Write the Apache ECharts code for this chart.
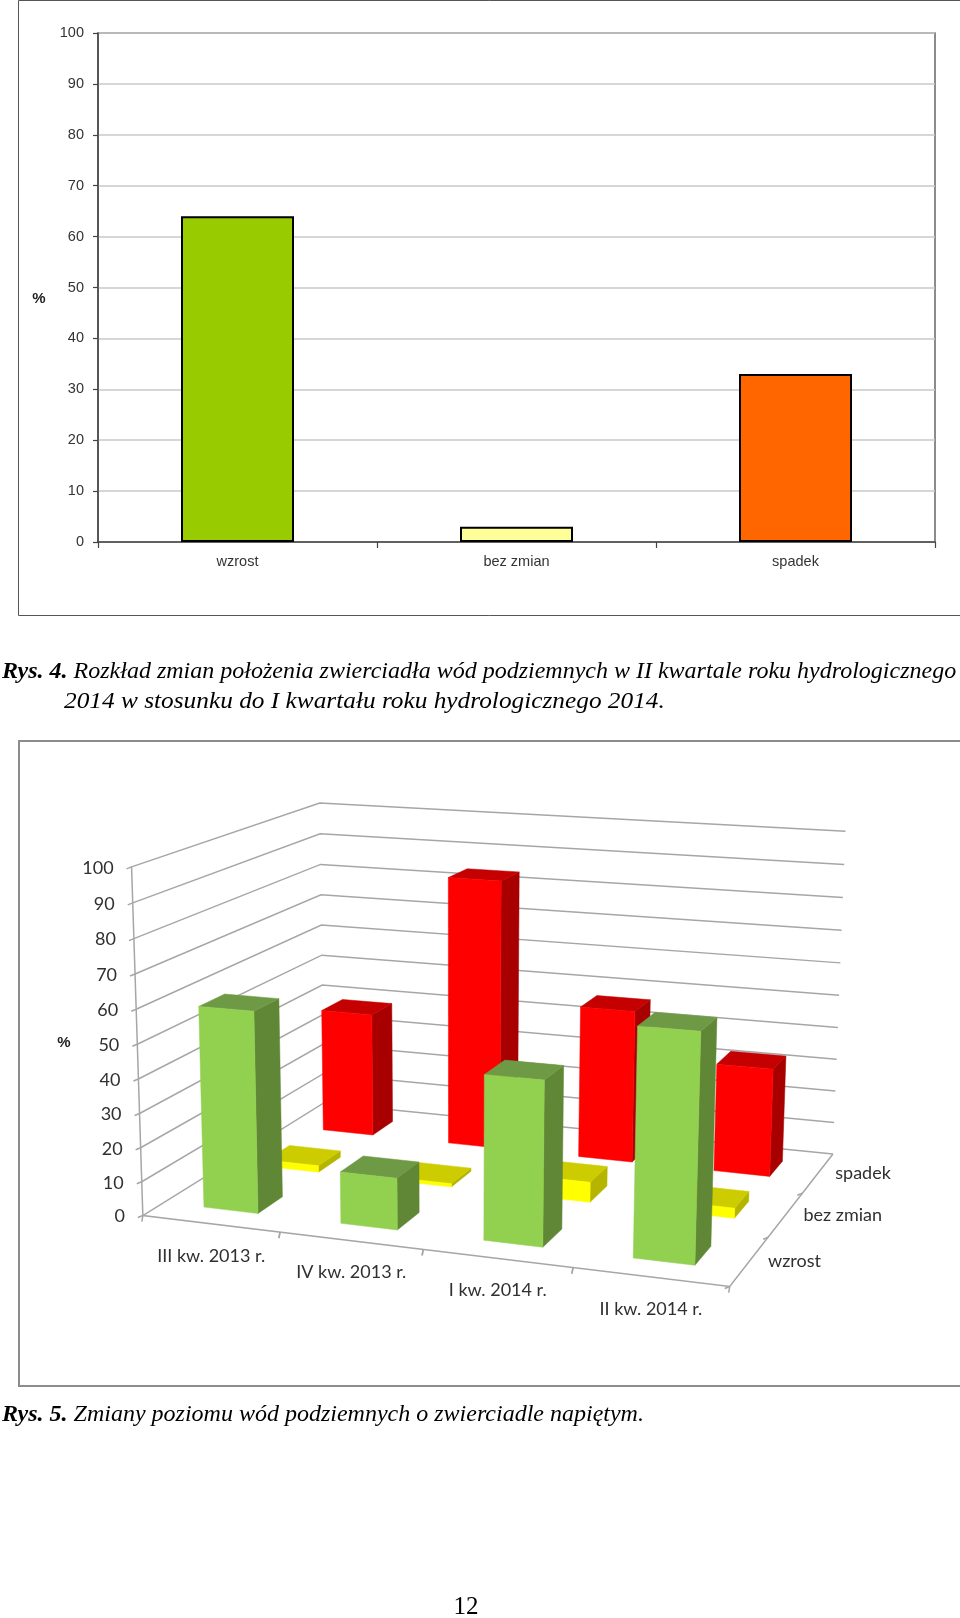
<!DOCTYPE html>
<html><head><meta charset="utf-8">
<style>html,body{margin:0;padding:0;background:#fff}#c{width:960px;height:1618px}</style>
<script src="https://cdn.jsdelivr.net/npm/echarts@6/dist/echarts.min.js"></script>
</head><body><div id="c"></div>
<script>
// ---- data ----
const changeCategories = ['wzrost', 'bez zmian', 'spadek'];
const changeValues = [64, 3, 33];
const changeColors = ['#99CC00', '#FFFF99', '#FF6600'];

const quarters = ['III kw. 2013 r.', 'IV kw. 2013 r.', 'I kw. 2014 r.', 'II kw. 2014 r.'];
const depthLabels = ['wzrost', 'bez zmian', 'spadek'];
const wzrost = [59, 15, 47, 64];
const bezZmian = [2, 1, 6, 3];
const spadek = [39, 84, 47, 33];
const yTicks = [0, 10, 20, 30, 40, 50, 60, 70, 80, 90, 100];

const captions = [
  { pre: 'Rys. 4.', text: ' Rozkład zmian położenia zwierciadła wód podziemnych w II kwartale roku hydrologicznego' },
  { text: '2014 w stosunku do I kwartału roku hydrologicznego 2014.' },
  { pre: 'Rys. 5.', text: ' Zmiany poziomu wód podziemnych o zwierciadle napiętym.' }
];

// ---- perspective camera of the 3D panel: (u, v, w) in 0..1 -> page pixels ----
const calib = [
  [0, 0, 0, 145, 1215], [1, 0, 0, 729, 1288], [1, 1, 0, 834, 1152], [0, 1, 0, 321.5, 1104],
  [0, 0, 1, 130, 866], [0, 1, 1, 321.5, 803], [1, 1, 1, 845, 832]
];
function solveCamera(pts) {
  const A = [], B = [];
  pts.forEach(([u, v, w, X, Y]) => {
    const x = X / 1000, y = Y / 1000;
    A.push([u, v, w, 1, 0, 0, 0, 0, -x * u, -x * v, -x * w]); B.push(x);
    A.push([0, 0, 0, 0, u, v, w, 1, -y * u, -y * v, -y * w]); B.push(y);
  });
  const n = 11, M = [];
  for (let r = 0; r < n; r++) {
    M.push([]);
    for (let c = 0; c < n; c++) {
      let s = r === c ? 1e-10 : 0;
      A.forEach(row => { s += row[r] * row[c]; });
      M[r].push(s);
    }
    let s = 0;
    A.forEach((row, i) => { s += row[r] * B[i]; });
    M[r].push(s);
  }
  for (let i = 0; i < n; i++) {
    let p = i;
    for (let r = i + 1; r < n; r++) if (Math.abs(M[r][i]) > Math.abs(M[p][i])) p = r;
    [M[i], M[p]] = [M[p], M[i]];
    for (let r = 0; r < n; r++) {
      if (r === i) continue;
      const f = M[r][i] / M[i][i];
      for (let c = i; c <= n; c++) M[r][c] -= f * M[i][c];
    }
  }
  return M.map((row, i) => row[n] / row[i]);
}
const K = solveCamera(calib);
function project(u, v, w) {
  const d = K[8] * u + K[9] * v + K[10] * w + 1;
  return [1000 * (K[0] * u + K[1] * v + K[2] * w + K[3]) / d,
          1000 * (K[4] * u + K[5] * v + K[6] * w + K[7]) / d];
}
// library scales -> normalised position
function toUW(api, params, cat, val) {
  const p = api.coord([cat, val]), r = params.coordSys;
  return [(p[0] - r.x) / r.width, 1 - (p[1] - r.y) / r.height];
}

const BAR_W = 0.40 / 4, BAR_D = 0.39 / 3;
function barRender(row, faces) {
  return function (params, api) {
    const [u, w] = toUW(api, params, api.value(0), api.value(1));
    const v = (row + 0.5) / 3;
    const u0 = u - BAR_W / 2, u1 = u + BAR_W / 2, v0 = v - BAR_D / 2, v1 = v + BAR_D / 2;
    const poly = (pts, fill) => ({
      type: 'polygon',
      shape: { points: pts.map(q => project(q[0], q[1], q[2])) },
      style: { fill: fill, stroke: fill, lineWidth: 0.5 }
    });
    return { type: 'group', children: [
      poly([[u1, v0, 0], [u1, v1, 0], [u1, v1, w], [u1, v0, w]], faces.side),
      poly([[u0, v0, w], [u1, v0, w], [u1, v1, w], [u0, v1, w]], faces.top),
      poly([[u0, v0, 0], [u1, v0, 0], [u1, v0, w], [u0, v0, w]], faces.front)
    ] };
  };
}
const LINE = '#A6A6A6';
const line = (pts, lw) => ({ type: 'polyline', shape: { points: pts }, style: { stroke: LINE, lineWidth: lw || 1.5, fill: null } });
const label = (t, x, y, align) => ({ type: 'text', style: { text: t, x: x, y: y, align: align || 'center', verticalAlign: 'middle',
  fontFamily: 'Lato', fontSize: 18, fill: '#303030' } });

function gridRender(params, api) {
  const [, w] = toUW(api, params, 0, api.value(0));
  const f = project(0, 0, w), b = project(0, 1, w), r = project(1, 1, w);
  return { type: 'group', children: [
    line([[f[0] - 5, f[1] + 2], f, b, r]),
    label(String(api.value(0)), f[0] - 18, f[1] + 1, 'right')
  ] };
}
function axisRender() {
  const a = project(0, 0, 0), t = project(0, 0, 1), fr = project(1, 0, 0), br = project(1, 1, 0);
  const kids = [line([t, a, fr, br])];
  [1 / 3, 2 / 3, 1].forEach(v => {
    const p = project(1, 1 - v, 0);
    kids.push(line([p, [p[0] - 5, p[1] + 2]]));
  });
  return { type: 'group', children: kids };
}
function quarterRender(params, api) {
  const i = params.dataIndex;
  const m = project((i + 0.5) / 4, 0, 0), q = project((i + 1) / 4, 0, 0), q0 = project(i / 4, 0, 0);
  return { type: 'group', children: [
    line([q0, [q0[0] - 1, q0[1] + 6]]),
    line([q, [q[0] - 1, q[1] + 6]]),
    label(quarters[i], m[0] + 0.5, m[1] + 32)
  ] };
}
const depthNudge = [-2, 10, -2];
function depthRender(params) {
  const i = params.dataIndex;
  const m = project(1, (i + 0.5) / 3, 0);
  return label(depthLabels[i], m[0] + 47 + depthNudge[i], m[1] + 0.5);
}

const FS = 24;
const pageText = (x, y, rich, sx) => ({
  type: 'text', x: x, y: y, scaleX: sx || 1, silent: true,
  style: { text: rich, fontFamily: 'Liberation Serif', fontSize: FS, fontStyle: 'italic', fill: '#000',
    verticalAlign: 'middle',
    rich: { b: { fontWeight: 'bold', fontStyle: 'italic', fontFamily: 'Liberation Serif', fontSize: FS, fill: '#000' },
            i: { fontStyle: 'italic', fontFamily: 'Liberation Serif', fontSize: FS, fill: '#000' } } }
});
const capText = c => (c.pre ? '{b|' + c.pre + '}' : '') + '{i|' + c.text + '}';

const chart = echarts.init(document.getElementById('c'), null, { renderer: 'canvas', width: 960, height: 1618 });
chart.setOption({
  animation: false,
  backgroundColor: '#fff',
  grid: [
    { left: 98, top: 33, width: 837, height: 509, show: true, borderColor: '#666', borderWidth: 1.5, backgroundColor: 'transparent', containLabel: false },
    { left: 100, top: 800, width: 400, height: 400, show: false }
  ],
  xAxis: [
    { gridIndex: 0, type: 'category', data: changeCategories,
      axisLine: { show: true, lineStyle: { color: '#444', width: 1.5 } },
      axisTick: { show: true, alignWithLabel: false, length: 6, lineStyle: { color: '#444', width: 1.2 } },
      axisLabel: { color: '#333', fontFamily: 'Liberation Sans', fontSize: 14.5, margin: 12 } },
    { gridIndex: 1, type: 'category', data: quarters, show: false }
  ],
  yAxis: [
    { gridIndex: 0, type: 'value', min: 0, max: 100, interval: 10,
      axisLine: { show: true, lineStyle: { color: '#444', width: 1.5 } },
      axisTick: { show: true, length: 5, lineStyle: { color: '#444', width: 1.2 } },
      axisLabel: { color: '#333', fontFamily: 'Liberation Sans', fontSize: 14.5, margin: 14 },
      splitLine: { show: true, lineStyle: { color: '#C8C8C8', width: 1.5 } } },
    { gridIndex: 1, type: 'value', min: 0, max: 100, interval: 10, show: false }
  ],
  series: [
    { type: 'bar', xAxisIndex: 0, yAxisIndex: 0, barWidth: '40.5%',
      data: changeValues.map((v, i) => ({ value: v, itemStyle: { color: changeColors[i], borderColor: '#000', borderWidth: 2 } })) },
    { type: 'custom', xAxisIndex: 1, yAxisIndex: 1, clip: false, silent: true, renderItem: gridRender, data: yTicks.map(t => [t]), encode: { x: -1, y: 0 } },
    { type: 'custom', xAxisIndex: 1, yAxisIndex: 1, clip: false, silent: true, renderItem: axisRender, data: [[0, 0]] },
    { type: 'custom', xAxisIndex: 1, yAxisIndex: 1, clip: false, silent: true, renderItem: quarterRender, data: quarters.map((q, i) => [i, 0]) },
    { type: 'custom', xAxisIndex: 1, yAxisIndex: 1, clip: false, silent: true, renderItem: depthRender, data: depthLabels.map((q, i) => [0, 0]) },
    { type: 'custom', name: 'spadek', xAxisIndex: 1, yAxisIndex: 1, clip: false, silent: true,
      renderItem: barRender(2, { front: '#FF0000', side: '#A80000', top: '#C40000' }), data: spadek.map((v, i) => [i, v]) },
    { type: 'custom', name: 'bez zmian', xAxisIndex: 1, yAxisIndex: 1, clip: false, silent: true,
      renderItem: barRender(1, { front: '#FFFF00', side: '#B5B500', top: '#CCCC00' }), data: bezZmian.map((v, i) => [i, v]) },
    { type: 'custom', name: 'wzrost', xAxisIndex: 1, yAxisIndex: 1, clip: false, silent: true,
      renderItem: barRender(0, { front: '#92D050', side: '#5F8735', top: '#6F9A45' }), data: wzrost.map((v, i) => [i, v]) }
  ],
  graphic: [
    { type: 'rect', shape: { x: 18.5, y: 0.5, width: 960, height: 615 }, style: { fill: null, stroke: '#555', lineWidth: 1 }, silent: true, z: -1 },
    { type: 'rect', shape: { x: 19, y: 741, width: 960, height: 645 }, style: { fill: null, stroke: '#8C8C8C', lineWidth: 2 }, silent: true, z: -1 },
    pageText(2, 672, capText(captions[0])),
    pageText(64, 702, capText(captions[1]), 1.055),
    pageText(2, 1415, capText(captions[2])),
    { type: 'text', x: 39, y: 299, silent: true, style: { text: '%', fontFamily: 'Liberation Sans', fontWeight: 'bold', fontSize: 15, fill: '#222', align: 'center', verticalAlign: 'middle' } },
    { type: 'text', x: 64, y: 1043, silent: true, style: { text: '%', fontFamily: 'Liberation Sans', fontWeight: 'bold', fontSize: 15, fill: '#222', align: 'center', verticalAlign: 'middle' } },
    { type: 'text', x: 466, y: 1607, silent: true, style: { text: '12', fontFamily: 'Liberation Serif', fontSize: 25, fill: '#000', align: 'center', verticalAlign: 'middle' } }
  ]
});
</script></body></html>
